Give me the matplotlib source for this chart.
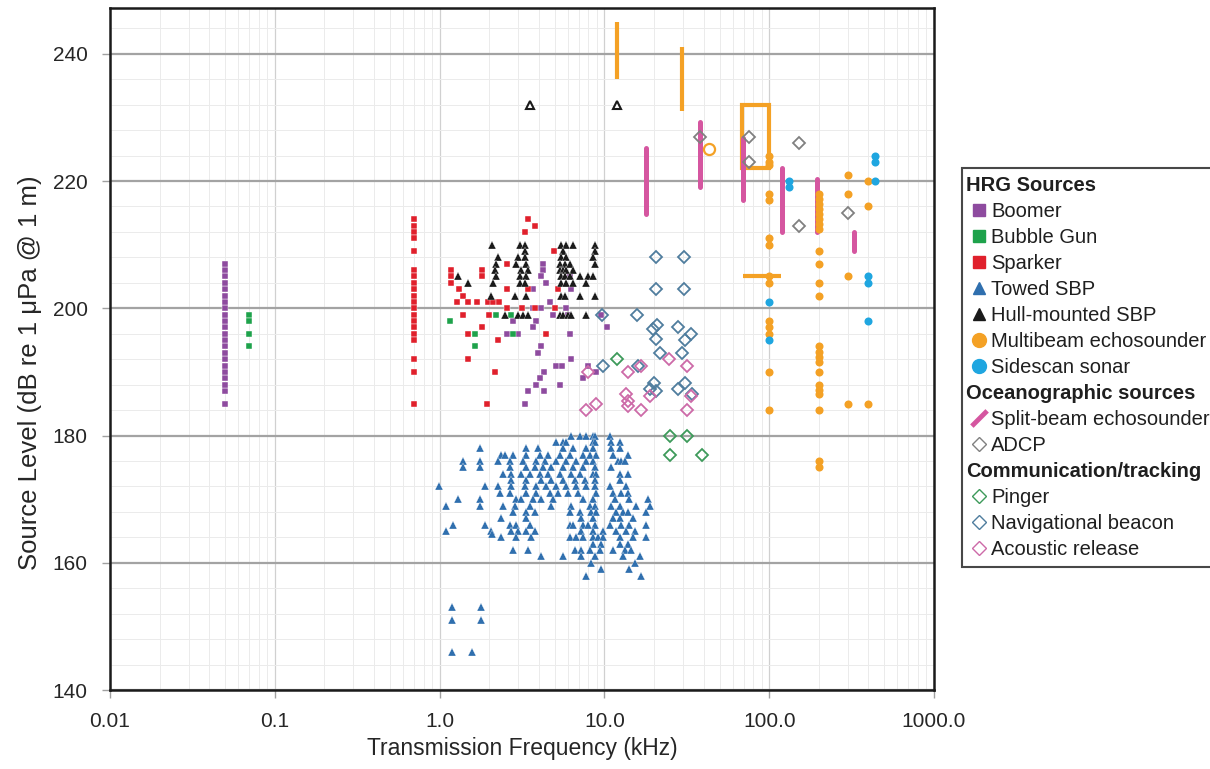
import matplotlib
matplotlib.use('Agg')
import matplotlib.pyplot as plt
import matplotlib.transforms as mtransforms
from matplotlib.lines import Line2D
from matplotlib.patches import Rectangle
from matplotlib.ticker import MultipleLocator, LogLocator, NullFormatter

# ---- data: (frequency kHz, source level dB) ----
boomer = [(0.05, 185)] + [(0.05, v) for v in [187, 188, 189, 190, 191, 192, 193, 194, 195, 196, 197,
                                                198, 199, 200, 201, 202, 203, 204, 205, 206, 207]] + [
    (4.24, 207), (4.24, 206), (4.14, 205), (4.44, 204), (3.67, 203), (6.3, 203), (6.15, 205),
    (4.65, 201), (4.14, 200), (3.67, 200), (5.87, 200), (4.85, 199), (6.0, 199), (2.78, 198),
    (3.86, 198), (3.67, 197), (10.3, 197), (9.56, 199), (2.58, 196), (2.97, 196), (4.44, 196),
    (6.15, 196), (4.14, 194), (3.93, 193), (6.3, 192), (5.1, 191), (5.5, 191), (7.9, 191),
    (4.33, 190), (8.9, 190), (3.86, 188), (7.4, 189), (4.06, 189), (5.35, 188), (3.44, 187),
    (4.33, 187), (3.28, 185)]

bubble_gun = [(0.07, 199), (0.07, 198), (0.07, 196), (0.07, 194), (1.15, 198), (1.65, 196),
              (1.65, 194), (2.2, 199), (2.73, 199), (2.8, 196)]

sparker = [(0.7, v) for v in [214, 213, 212, 211, 209, 206, 205, 204, 203, 202, 201, 200, 199,
                              198, 197, 196, 195, 192, 190, 185]] + [
    (3.44, 214), (3.77, 213), (3.28, 212), (4.95, 209), (1.18, 206), (1.18, 205), (1.18, 204),
    (1.8, 206), (1.8, 205), (2.55, 207), (1.32, 203), (1.38, 202), (1.27, 201), (1.48, 201),
    (1.68, 201), (1.98, 201), (2.1, 201), (2.28, 201), (2.55, 203), (3.42, 203), (5.2, 203),
    (2.55, 200), (3.18, 200), (3.77, 200), (5.0, 200), (1.38, 199), (2.0, 199), (1.48, 196),
    (2.25, 195), (4.4, 196), (1.48, 192), (2.16, 190), (1.95, 185), (1.8, 197)]

towed_sbp = [
    (6.3, 180), (7.07, 180), (7.77, 180), (8.52, 180), (8.8, 180), (10.76, 180),
    (5.1, 179), (5.6, 179), (5.87, 179), (8.52, 179), (8.8, 179), (11.0, 179), (12.37, 179),
    (1.77, 178), (3.36, 178), (3.95, 178), (5.6, 178), (6.44, 178), (7.77, 178), (8.52, 178),
    (11.0, 178), (12.37, 178),
    (2.37, 177), (2.48, 177), (2.79, 177), (3.36, 177), (4.05, 177), (4.54, 177), (5.35, 177),
    (6.15, 177), (7.41, 177), (8.14, 177), (8.93, 177), (11.27, 177), (13.9, 177),
    (1.385, 176), (1.77, 176), (2.26, 176), (2.66, 176), (3.2, 176), (3.86, 176), (4.34, 176),
    (5.1, 176), (5.87, 176), (6.75, 176), (7.77, 176), (8.52, 176), (12.1, 176), (12.66, 176),
    (13.27, 176),
    (1.39, 175), (1.77, 175), (2.66, 175), (3.36, 175), (3.77, 175), (4.24, 175), (4.76, 175),
    (5.6, 175), (6.44, 175), (7.41, 175), (8.72, 175), (11.0, 175),
    (2.42, 174), (2.72, 174), (3.13, 174), (3.52, 174), (4.05, 174), (4.54, 174), (5.35, 174),
    (6.3, 174), (7.07, 174), (8.52, 174), (8.93, 174), (12.37, 174), (13.9, 174),
    (2.72, 173), (3.36, 173), (4.14, 173), (4.76, 173), (5.6, 173), (6.6, 173), (7.59, 173),
    (8.72, 173), (12.37, 173),
    (0.99, 172), (1.875, 172), (2.26, 172), (2.72, 172), (3.28, 172), (3.86, 172), (4.44, 172),
    (5.1, 172), (5.87, 172), (6.75, 172), (7.77, 172), (8.72, 172), (10.76, 172), (13.58, 172),
    (2.31, 171), (2.66, 171), (3.36, 171), (3.86, 171), (4.65, 171), (5.22, 171), (6.01, 171),
    (6.91, 171), (8.93, 171), (11.27, 171), (12.66, 171), (13.9, 171),
    (1.29, 170), (1.77, 170), (2.92, 170), (3.13, 170), (3.68, 170), (4.14, 170), (4.87, 170),
    (7.41, 170), (8.52, 170), (11.53, 170), (14.2, 170), (18.4, 170),
    (1.10, 169), (1.77, 169), (2.42, 169), (2.85, 169), (3.52, 169), (4.76, 169), (6.3, 169),
    (8.14, 169), (8.72, 169), (11.0, 169), (12.37, 169), (15.6, 169), (18.8, 169),
    (2.79, 168), (3.36, 168), (3.77, 168), (6.15, 168), (7.07, 168), (8.33, 168), (8.93, 168),
    (11.8, 168), (12.96, 168), (13.9, 168), (17.9, 168),
    (2.37, 167), (3.36, 167), (7.24, 167), (8.52, 167), (11.27, 167), (12.37, 167), (14.9, 167),
    (1.205, 166), (1.875, 166), (2.66, 166), (2.92, 166), (3.52, 166), (6.15, 166), (6.44, 166),
    (7.41, 166), (7.95, 166), (8.72, 166), (10.76, 166), (12.66, 166), (14.2, 166), (17.9, 166),
    (1.10, 165), (2.06, 165), (2.72, 165), (2.99, 165), (3.36, 165), (3.77, 165), (7.24, 165),
    (8.52, 165), (9.8, 165), (11.8, 165), (13.58, 165), (15.25, 165),
    (2.09, 164.5), (2.37, 164), (2.92, 164), (3.6, 164), (6.15, 164), (6.75, 164), (7.41, 164),
    (8.52, 164), (9.14, 164), (9.8, 164), (12.37, 164), (14.9, 164), (17.9, 164),
    (8.52, 163), (9.57, 163), (12.37, 163), (13.9, 163),
    (2.79, 162), (3.44, 162), (6.6, 162), (7.24, 162), (8.14, 162), (9.35, 162), (11.27, 162),
    (13.27, 162), (14.56, 162),
    (4.14, 161), (5.6, 161), (7.24, 161), (8.72, 161), (12.96, 161), (16.36, 161),
    (8.33, 160), (15.25, 160), (9.57, 159), (14.2, 159), (7.77, 158), (16.74, 158),
    (1.19, 153), (1.79, 153), (1.19, 151), (1.79, 151), (1.19, 146), (1.58, 146)]

hull_sbp = [
    (2.09, 210), (3.06, 210), (3.28, 210), (5.47, 210), (5.87, 210), (6.44, 210), (8.72, 210),
    (3.28, 209), (5.6, 209), (8.72, 209),
    (2.26, 208), (2.99, 208), (3.28, 208), (5.47, 208), (5.87, 208), (8.52, 208),
    (2.21, 207), (2.92, 207), (3.36, 207), (5.35, 207), (5.73, 207), (6.15, 207), (8.72, 207),
    (2.16, 206), (3.13, 206), (3.44, 206), (5.35, 206), (5.6, 206), (5.87, 206), (6.44, 206),
    (1.29, 205), (2.21, 205), (3.06, 205), (3.36, 205), (5.47, 205), (5.73, 205), (6.15, 205),
    (7.07, 205), (7.95, 205), (8.52, 205),
    (1.485, 204), (2.11, 204), (3.06, 204), (3.28, 204), (5.47, 204), (5.87, 204), (6.44, 204),
    (7.77, 204),
    (2.06, 202), (2.85, 202), (3.36, 202), (5.47, 202), (5.73, 202), (7.07, 202), (8.72, 202),
    (2.48, 199), (2.99, 199), (3.20, 199), (3.44, 199), (5.35, 199), (5.6, 199), (6.01, 199),
    (6.3, 199), (7.77, 199)]
hull_sbp_open = [(3.52, 232), (11.9, 232)]

multibeam = [(100, v) for v in [224, 223, 222.5, 218, 217, 211, 210, 205, 204, 198, 197, 196,
                                190, 184]] + \
            [(200, v) for v in [218, 217.2, 216.4, 215.6, 214.8, 214, 213.2, 212.5, 209, 207, 204,
                                202, 194, 193.2, 192.4, 191.6, 190, 188, 187.2, 186.5, 184, 176,
                                175]] + \
            [(300, 221), (300, 218), (300, 205), (300, 185), (400, 220), (400, 216), (400, 185)]
multibeam_open = [(43, 225)]
# vertical ranges (freq, low, high), horizontal range (low, high, level), box
multibeam_vranges = [(11.9, 236, 245), (29.5, 231, 241)]
multibeam_hrange = (69, 118, 205)
multibeam_box = (68, 100, 222, 232)

sidescan = [(440, 224), (440, 223), (440, 220), (400, 205), (400, 204), (400, 198),
            (131, 220), (131, 219), (100, 201), (100, 195)]

split_beam = [(17.8, 214.8, 225.2), (37.8, 219, 229.3), (69, 217, 226.8), (118.8, 212, 222),
              (195, 212, 220.3), (325, 209, 212)]

adcp = [(37.8, 227), (75.2, 227), (75.2, 223), (151, 226), (151, 213), (300, 215)]

pinger = [(11.9, 192), (24.9, 180), (31.6, 180), (24.9, 177), (39.1, 177)]

nav_beacon = [(20.6, 208), (30.4, 208), (20.6, 203), (30.4, 203), (9.7, 199), (15.8, 199),
              (19.7, 196.8), (20.9, 197.3), (27.9, 197), (33.6, 196), (20.6, 195.2), (30.7, 195),
              (21.6, 193), (29.5, 193), (9.8, 191), (15.9, 191), (19.9, 188.2), (18.8, 187.3),
              (20.6, 187), (27.9, 187.3), (30.7, 188.2), (33.8, 186.6)]

acoustic_release = [(7.93, 190), (13.9, 190), (16.7, 191), (24.6, 192), (31.8, 191),
                    (13.6, 186.5), (13.9, 185.4), (13.9, 184.6), (16.7, 184), (18.8, 186.2),
                    (33.6, 186.2), (31.8, 184), (7.77, 184), (8.85, 185)]

# ---- colours ----
c_boomer = '#8e4b9f'
c_bubble = '#1ea24b'
c_sparker = '#e0202c'
c_towed = '#2f6fae'
c_hull = '#1a1a1a'
c_multi = '#f4a125'
c_side = '#1fa6e0'
c_split = '#d556a0'
c_adcp = '#808080'
c_pinger = '#3d9a5a'
c_beacon = '#4f7d9e'
c_release = '#cd6aa8'

plt.rcParams['font.family'] = ['Liberation Sans', 'DejaVu Sans']

fig = plt.figure(figsize=(12.10, 7.69), dpi=100)
ax = fig.add_axes([0.0909, 0.1027, 0.6810, 0.8869])


def xs(pts):
    return [p[0] for p in pts]


def ys(pts):
    return [p[1] for p in pts]


# ranges drawn as bars
for f, lo, hi in multibeam_vranges:
    ax.plot([f, f], [lo, hi], color=c_multi, lw=3, solid_capstyle='butt', zorder=3)
ax.plot(multibeam_hrange[:2], [multibeam_hrange[2]] * 2, color=c_multi, lw=3,
        solid_capstyle='butt', zorder=3)
bx0, bx1, by0, by1 = multibeam_box
ax.add_patch(Rectangle((bx0, by0), bx1 - bx0, by1 - by0, fill=False, ec=c_multi, lw=3, zorder=3))
for f, lo, hi in split_beam:
    ax.plot([f, f], [lo, hi], color=c_split, lw=3.6, solid_capstyle='round', zorder=3)

ax.plot(xs(boomer), ys(boomer), 's', color=c_boomer, ms=4.4, mec='white', mew=0.3, zorder=4)
ax.plot(xs(bubble_gun), ys(bubble_gun), 's', color=c_bubble, ms=4.4, mec='white', mew=0.3, zorder=4)
ax.plot(xs(sparker), ys(sparker), 's', color=c_sparker, ms=4.4, mec='white', mew=0.3, zorder=4)
ax.plot(xs(towed_sbp), ys(towed_sbp), '^', color=c_towed, ms=6.2, mec='white', mew=0.2, zorder=4)
ax.plot(xs(hull_sbp), ys(hull_sbp), '^', color=c_hull, ms=6.2, mec='white', mew=0.2, zorder=4)
ax.plot(xs(hull_sbp_open), ys(hull_sbp_open), '^', mfc='white', mec=c_hull, ms=5.5, mew=1.5, zorder=4)
ax.plot(xs(multibeam), ys(multibeam), 'o', color=c_multi, ms=5.8, mew=0, zorder=4)
ax.plot(xs(multibeam_open), ys(multibeam_open), 'o', mfc='none', mec=c_multi, ms=8, mew=1.6, zorder=4)
ax.plot(xs(sidescan), ys(sidescan), 'o', color=c_side, ms=5.8, mew=0, zorder=4)
ax.plot(xs(adcp), ys(adcp), 'D', mfc='none', mec=c_adcp, ms=6.6, mew=1.3, zorder=5)
ax.plot(xs(pinger), ys(pinger), 'D', mfc='none', mec=c_pinger, ms=6.6, mew=1.3, zorder=5)
ax.plot(xs(nav_beacon), ys(nav_beacon), 'D', mfc='none', mec=c_beacon, ms=6.6, mew=1.3, zorder=5)
ax.plot(xs(acoustic_release), ys(acoustic_release), 'D', mfc='none', mec=c_release, ms=6.6,
        mew=1.3, zorder=5)

# ---- axes ----
ax.set_xscale('log')
ax.set_xlim(0.01, 1000)
ax.set_ylim(140, 247.2)
ax.set_xticks([0.01, 0.1, 1, 10, 100, 1000])
ax.set_xticklabels(['0.01', '0.1', '1.0', '10.0', '100.0', '1000.0'])
ax.xaxis.set_minor_locator(LogLocator(base=10, subs=range(2, 10)))
ax.xaxis.set_minor_formatter(NullFormatter())
ax.set_yticks(range(140, 241, 20))
ax.yaxis.set_minor_locator(MultipleLocator(4))

ax.grid(which='minor', color='#ebebeb', lw=0.7)
ax.grid(which='major', axis='x', color='#d0d0d0', lw=0.9)
ax.grid(which='major', axis='y', color='#a3a3a3', lw=1.6)
ax.set_axisbelow(True)
ax.tick_params(which='major', direction='out', length=6, width=1, color='#a0a0a0',
               labelsize=15, labelcolor='#262626', pad=10)
ax.tick_params(which='minor', length=0)
for s in ax.spines.values():
    s.set_linewidth(1.8)
    s.set_color('#1a1a1a')

ax.set_xlabel('Transmission Frequency (kHz)', fontsize=16.5, color='#262626', labelpad=4)
ax.set_ylabel('Source Level (dB re 1 μPa @ 1 m)', fontsize=18.5, color='#262626')
ax.yaxis.set_label_coords(-0.082, 0.466)

# ---- legend ----
blank = Line2D([], [], linestyle='none', marker='none')
handles = [
    blank,
    Line2D([], [], ls='none', marker='s', color=c_boomer, ms=8),
    Line2D([], [], ls='none', marker='s', color=c_bubble, ms=8),
    Line2D([], [], ls='none', marker='s', color=c_sparker, ms=8),
    Line2D([], [], ls='none', marker='^', color=c_towed, ms=9),
    Line2D([], [], ls='none', marker='^', color=c_hull, ms=9),
    Line2D([], [], ls='none', marker='o', color=c_multi, ms=10),
    Line2D([], [], ls='none', marker='o', color=c_side, ms=10),
    blank,
    Line2D([], [], ls='none', marker=[(-1, -1), (1, 1)], mec=c_split, ms=11, mew=3.5),
    Line2D([], [], ls='none', marker='D', mfc='none', mec=c_adcp, ms=7, mew=1),
    blank,
    Line2D([], [], ls='none', marker='D', mfc='none', mec=c_pinger, ms=7, mew=1),
    Line2D([], [], ls='none', marker='D', mfc='none', mec=c_beacon, ms=7, mew=1),
    Line2D([], [], ls='none', marker='D', mfc='none', mec=c_release, ms=7, mew=1),
]
labels = ['HRG Sources', 'Boomer', 'Bubble Gun', 'Sparker', 'Towed SBP', 'Hull-mounted SBP',
          'Multibeam echosounder', 'Sidescan sonar', 'Oceanographic sources',
          'Split-beam echosounder', 'ADCP', 'Communication/tracking', 'Pinger',
          'Navigational beacon', 'Acoustic release']
leg = fig.legend(handles, labels, loc='upper left', bbox_to_anchor=(0.795, 0.782),
                 frameon=True, fancybox=False, edgecolor='#1a1a1a',
                 prop={'family': 'Liberation Sans', 'size': 14.5},
                 handlelength=0.9, handletextpad=0.15, labelspacing=0.35, borderpad=0.4,
                 borderaxespad=0)
leg.get_frame().set_linewidth(1.5)
shift = mtransforms.ScaledTranslation(-0.25, 0, fig.dpi_scale_trans)
for t in leg.get_texts():
    t.set_color('#1f1f1f')
    if t.get_text() in ('HRG Sources', 'Oceanographic sources', 'Communication/tracking'):
        t.set_fontweight('bold')
        t.set_transform(t.get_transform() + shift)

fig.savefig('out.png', dpi=100)
